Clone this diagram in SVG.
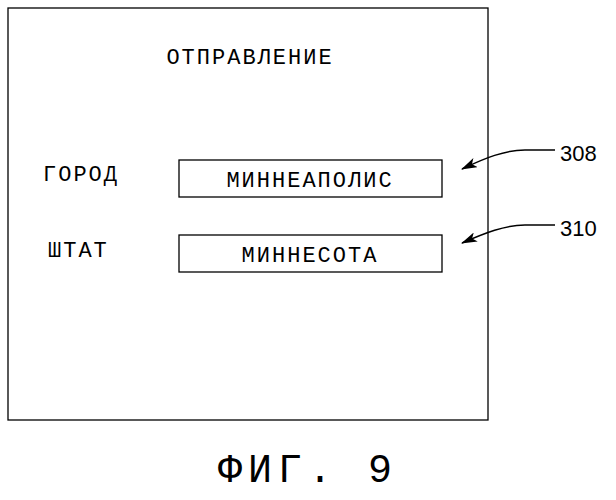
<svg xmlns="http://www.w3.org/2000/svg" width="616" height="500" viewBox="0 0 616 500">
<style>
.m{font-family:"Liberation Mono",monospace;font-size:22px;letter-spacing:2px;fill:#000}
.n{font-family:"Liberation Sans",sans-serif;font-size:22px;fill:#000}
.b{fill:#fff;stroke:#000;stroke-width:1.3}
.c{fill:none;stroke:#000;stroke-width:1.5}
</style>
<defs><marker id="a" markerWidth="16" markerHeight="10" refX="15" refY="5" orient="auto" markerUnits="userSpaceOnUse"><path d="M16,5 L0,0 L4,5 L0,10 Z" fill="#000"/></marker></defs>
<rect width="616" height="500" fill="#fff"/>
<g id="frame"><rect class="b" x="8" y="8" width="480" height="412"/></g>
<g id="title"><text class="m" x="250" y="64" text-anchor="middle">ОТПРАВЛЕНИЕ</text></g>
<g id="city"><text class="m" x="43" y="181">ГОРОД</text><rect class="b" x="179" y="160" width="263" height="37"/><text class="m" x="310" y="187" text-anchor="middle">МИННЕАПОЛИС</text></g>
<g id="state"><text class="m" x="48" y="257">ШТАТ</text><rect class="b" x="179" y="235" width="263" height="37"/><text class="m" x="310" y="262" text-anchor="middle">МИННЕСОТА</text></g>
<g id="connectors">
<path class="c" d="M555,150 L525,150 C505,150 485,158 462,169" marker-end="url(#a)"/>
<path class="c" d="M555,225 L525,225 C505,225 485,233 462,243" marker-end="url(#a)"/>
</g>
<g id="labels"><text class="n" x="560" y="161">308</text><text class="n" x="560" y="236">310</text></g>
<g id="caption"><text class="m" x="308" y="482" text-anchor="middle" style="font-size:40px;letter-spacing:6px">ФИГ. 9</text></g>
</svg>
